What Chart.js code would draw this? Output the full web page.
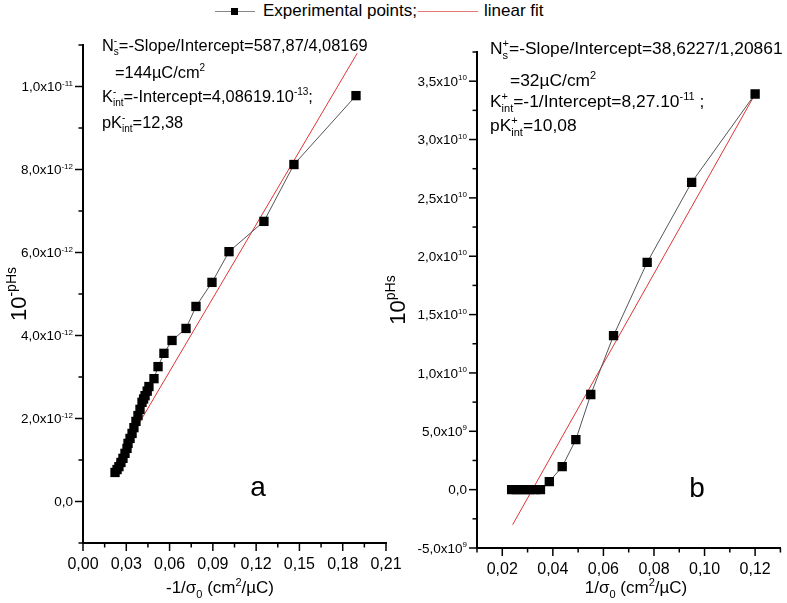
<!DOCTYPE html>
<html>
<head>
<meta charset="utf-8">
<script src="https://cdn.jsdelivr.net/npm/chart.js@4.4.1/dist/chart.umd.min.js"></script>
<style>
  body { margin: 0; background: #fff; width: 787px; height: 603px; overflow: hidden; position: relative; font-family: "Liberation Sans", Arial, sans-serif; }
  .cv { position: absolute; top: 0; }
  #legend { position: absolute; top: 0; left: 0; width: 787px; height: 24px; font-size: 17px; color: #000; }
  #legend span { position: absolute; top: 1px; }
  .ln { position: absolute; height: 1px; top: 11px; }
  .sq { position: absolute; width: 7px; height: 7px; background: #000; top: 8px; }
</style>
</head>
<body>
<div id="legend">
  <div class="ln" style="left:215px;width:40px;background:#888"></div>
  <div class="sq" style="left:231px"></div>
  <span style="left:263px">Experimental points;</span>
  <div class="ln" style="left:418px;width:60px;background:#e87878"></div>
  <span style="left:484px">linear fit</span>
</div>
<canvas id="chartA" class="cv" style="left:0px" width="420" height="603"></canvas>
<canvas id="chartB" class="cv" style="left:380px" width="407" height="603"></canvas>
<script>
// panel a : -1/sigma0 vs 10^-pHs
var aX = [0.0222, 0.0236, 0.0249, 0.0263, 0.0277, 0.0291, 0.0305, 0.0312, 0.0326, 0.0340,
          0.0353, 0.0367, 0.0381, 0.0395, 0.0409, 0.0420, 0.0430, 0.0445, 0.0457, 0.0492,
          0.0520, 0.0561, 0.0617, 0.0714, 0.0783, 0.0894, 0.1012, 0.1254, 0.1462, 0.1892];
var aY = [0.70e-12, 0.77e-12, 0.84e-12, 0.94e-12, 1.04e-12, 1.16e-12, 1.28e-12, 1.40e-12, 1.52e-12, 1.64e-12,
          1.78e-12, 1.93e-12, 2.07e-12, 2.22e-12, 2.39e-12, 2.47e-12, 2.55e-12, 2.66e-12, 2.77e-12, 2.96e-12,
          3.25e-12, 3.57e-12, 3.88e-12, 4.17e-12, 4.70e-12, 5.28e-12, 6.02e-12, 6.75e-12, 8.12e-12, 9.78e-12];
var aFitX = [0.0225, 0.190];
var aFitY = [0.92e-12, 10.8e-12];
var aXTicks = [0, 0.03, 0.06, 0.09, 0.12, 0.15, 0.18, 0.21];
var aXTickLabels = ["0,00", "0,03", "0,06", "0,09", "0,12", "0,15", "0,18", "0,21"];
var aYTicks = [0, 2e-12, 4e-12, 6e-12, 8e-12, 1e-11];
var aYTickLabels = [["0,0", ""], ["2,0x10", "-12"], ["4,0x10", "-12"], ["6,0x10", "-12"], ["8,0x10", "-12"], ["1,0x10", "-11"]];

// panel b : 1/sigma0 vs 10^pHs
var bX = [0.0237, 0.0255, 0.0273, 0.0292, 0.0310, 0.0330, 0.0351, 0.0386, 0.0437, 0.0491,
          0.0550, 0.0640, 0.0773, 0.0949, 0.1200];
var bY = [0, 0, 0, 0, 0, 0, 0, 0.69e9, 1.97e9, 4.29e9,
          8.15e9, 1.32e10, 1.947e10, 2.633e10, 3.39e10];
var bFitX = [0.0241, 0.1208];
var bFitY = [-3.0e9, 3.42e10];
var bXTicks = [0.02, 0.04, 0.06, 0.08, 0.10, 0.12];
var bXTickLabels = ["0,02", "0,04", "0,06", "0,08", "0,10", "0,12"];
var bYTicks = [-5e9, 0, 5e9, 1e10, 1.5e10, 2e10, 2.5e10, 3e10, 3.5e10];
var bYTickLabels = [["-5,0x10", "9"], ["0,0", ""], ["5,0x10", "9"], ["1,0x10", "10"], ["1,5x10", "10"],
                    ["2,0x10", "10"], ["2,5x10", "10"], ["3,0x10", "10"], ["3,5x10", "10"]];

var FONT = '"Liberation Sans", Arial, sans-serif';

function f(size) { return size + 'px ' + FONT; }

// parts: strings, or {sup:..}, {sub:..}, {sub:.., sup:..}
function richWidth(ctx, parts, size) {
  var w = 0;
  parts.forEach(function(p) {
    if (typeof p === 'string') { ctx.font = f(size); w += ctx.measureText(p).width; }
    else {
      ctx.font = f(Math.round(size * 0.62));
      var w1 = p.sup ? ctx.measureText(p.sup).width : 0;
      var w2 = p.sub ? ctx.measureText(p.sub).width : 0;
      w += Math.max(w1, w2);
    }
  });
  return w;
}

function drawRich(ctx, x, y, parts, size, align) {
  var w = richWidth(ctx, parts, size);
  if (align === 'right') x -= w;
  if (align === 'center') x -= w / 2;
  ctx.textBaseline = 'alphabetic';
  ctx.textAlign = 'left';
  ctx.fillStyle = '#000';
  var base = y + size * 0.35;
  parts.forEach(function(p) {
    if (typeof p === 'string') {
      ctx.font = f(size);
      ctx.fillText(p, x, base);
      x += ctx.measureText(p).width;
    } else {
      var s = Math.round(size * 0.62);
      ctx.font = f(s);
      var w1 = 0, w2 = 0;
      if (p.sup) { ctx.fillText(p.sup, x, base - size * 0.42); w1 = ctx.measureText(p.sup).width; }
      if (p.sub) { ctx.fillText(p.sub, x, base + size * 0.28); w2 = ctx.measureText(p.sub).width; }
      x += Math.max(w1, w2);
    }
  });
}

function makeChart(id, d) {
  var decor = {
    id: 'decor',
    afterDraw: function(chart) {
      var ctx = chart.ctx;
      var xs = chart.scales.x, ys = chart.scales.y;
      var area = chart.chartArea;
      ctx.save();
      ctx.strokeStyle = '#000';
      ctx.lineWidth = 1.5;
      // tick marks, long at labelled values
      d.xMinor.forEach(function(v) {
        var px = xs.getPixelForValue(v);
        var major = d.xTicks.some(function(t) { return Math.abs(t - v) < 1e-9; });
        ctx.beginPath();
        ctx.moveTo(px, area.bottom);
        ctx.lineTo(px, area.bottom + (major ? 8 : 4.5));
        ctx.stroke();
      });
      d.yMinor.forEach(function(v) {
        var py = ys.getPixelForValue(v);
        var major = d.yTicks.some(function(t) { return Math.abs(t - v) < Math.abs(d.yStep) * 1e-6; });
        ctx.beginPath();
        ctx.moveTo(area.left, py);
        ctx.lineTo(area.left - (major ? 8 : 4.5), py);
        ctx.stroke();
      });
      // tick labels
      d.xTicks.forEach(function(v, i) {
        drawRich(ctx, xs.getPixelForValue(v), area.bottom + 20, [d.xTickLabels[i]], 16, 'center');
      });
      d.yTicks.forEach(function(v, i) {
        var lab = d.yTickLabels[i];
        var parts = lab[1] ? [lab[0], {sup: lab[1]}] : [lab[0]];
        drawRich(ctx, area.left - 10, ys.getPixelForValue(v), parts, 13.5, 'right');
      });
      // axis titles
      drawRich(ctx, d.xTitleX, d.xTitleY, d.xTitle, 17, 'center');
      ctx.save();
      ctx.translate(d.yTitleX, (area.top + area.bottom) / 2);
      ctx.rotate(-Math.PI / 2);
      drawRich(ctx, 0, 0, d.yTitle, 22, 'center');
      ctx.restore();
      // annotation text
      d.notes.forEach(function(n) { drawRich(ctx, n[0], n[1], n[2], d.noteSize, 'left'); });
      ctx.font = f(28);
      ctx.textAlign = 'center';
      ctx.textBaseline = 'middle';
      ctx.fillText(d.letter[0], d.letter[1], d.letter[2]);
      ctx.restore();
    }
  };

  var pts = d.x.map(function(v, i) { return {x: v, y: d.y[i]}; });
  var fit = d.fitX.map(function(v, i) { return {x: v, y: d.fitY[i]}; });

  return new Chart(document.getElementById(id), {
    type: 'scatter',
    data: {
      datasets: [
        {
          label: 'linear fit',
          data: fit,
          showLine: true,
          borderColor: '#e03434',
          borderWidth: 1,
          pointRadius: 0,
          order: 2
        },
        {
          label: 'Experimental points;',
          data: pts,
          showLine: true,
          borderColor: '#555',
          borderWidth: 1,
          pointStyle: 'rect',
          pointRadius: 6.6,
          pointBackgroundColor: '#000',
          pointBorderColor: '#000',
          pointBorderWidth: 0,
          order: 1
        }
      ]
    },
    options: {
      responsive: false,
      animation: false,
      layout: { padding: d.pad },
      plugins: { legend: { display: false }, tooltip: { enabled: false } },
      scales: {
        x: {
          type: 'linear', min: d.xMin, max: d.xMax,
          ticks: { display: false },
          grid: { display: true, drawOnChartArea: false, drawTicks: false },
          border: { display: true, color: '#000', width: 2 },
          afterFit: function(s) { s.height = d.xH; }
        },
        y: {
          type: 'linear', min: d.yMin, max: d.yMax,
          ticks: { display: false },
          grid: { display: true, drawOnChartArea: false, drawTicks: false },
          border: { display: true, color: '#000', width: 2 },
          afterFit: function(s) { s.width = d.yW; }
        }
      }
    },
    plugins: [decor]
  });
}

makeChart('chartA', {
  x: aX, y: aY, fitX: aFitX, fitY: aFitY,
  xMin: 0, xMax: 0.21, yMin: -1e-12, yMax: 1.1e-11,
  xTicks: aXTicks, xTickLabels: aXTickLabels,
  xMinor: [0, 0.015, 0.03, 0.045, 0.06, 0.075, 0.09, 0.105, 0.12, 0.135, 0.15, 0.165, 0.18, 0.195, 0.21],
  yTicks: aYTicks, yTickLabels: aYTickLabels, yStep: 1e-12,
  yMinor: [-1e-12, 0, 1e-12, 2e-12, 3e-12, 4e-12, 5e-12, 6e-12, 7e-12, 8e-12, 9e-12, 1e-11, 1.1e-11],
  pad: { top: 45, right: 34, left: 0, bottom: 0 }, xH: 60, yW: 83,
  xTitle: ['-1/\u03c3', {sub: '0'}, ' (cm', {sup: '2'}, '/\u00b5C)'], xTitleX: 220, xTitleY: 587,
  yTitle: ['10', {sup: '-pHs'}], yTitleX: 18,
  noteSize: 16.4,
  notes: [
    [102, 45, ['N', {sub: 's', sup: '-'}, '=-Slope/Intercept=587,87/4,08169']],
    [115, 72, ['=144\u00b5C/cm', {sup: '2'}]],
    [102, 96, ['K', {sub: 'int', sup: '-'}, '=-Intercept=4,08619.10', {sup: '-13'}, ';']],
    [102, 122, ['pK', {sub: 'int', sup: '-'}, '=12,38']]
  ],
  letter: ['a', 258, 488]
});

makeChart('chartB', {
  x: bX, y: bY, fitX: bFitX, fitY: bFitY,
  xMin: 0.01, xMax: 0.13, yMin: -5e9, yMax: 3.75e10,
  xTicks: bXTicks, xTickLabels: bXTickLabels,
  xMinor: [0.01, 0.02, 0.03, 0.04, 0.05, 0.06, 0.07, 0.08, 0.09, 0.10, 0.11, 0.12, 0.13],
  yTicks: bYTicks, yTickLabels: bYTickLabels, yStep: 2.5e9,
  yMinor: [-5e9, -2.5e9, 0, 2.5e9, 5e9, 7.5e9, 1e10, 1.25e10, 1.5e10, 1.75e10, 2e10, 2.25e10, 2.5e10, 2.75e10, 3e10, 3.25e10, 3.5e10, 3.75e10],
  pad: { top: 52, right: 3, left: 0, bottom: 0 }, xH: 55, yW: 97,
  xTitle: ['1/\u03c3', {sub: '0'}, ' (cm', {sup: '2'}, '/\u00b5C)'], xTitleX: 256, xTitleY: 587,
  yTitle: ['10', {sup: 'pHs'}], yTitleX: 17,
  noteSize: 17.4,
  notes: [
    [110, 48, ['N', {sub: 's', sup: '+'}, '=-Slope/Intercept=38,6227/1,20861']],
    [130, 80, ['=32\u00b5C/cm', {sup: '2'}]],
    [110, 101, ['K', {sub: 'int', sup: '+'}, '=-1/Intercept=8,27.10', {sup: '-11'}, ' ;']],
    [110, 125, ['pK', {sub: 'int', sup: '+'}, '=10,08']]
  ],
  letter: ['b', 317, 489]
});
</script>
</body>
</html>
